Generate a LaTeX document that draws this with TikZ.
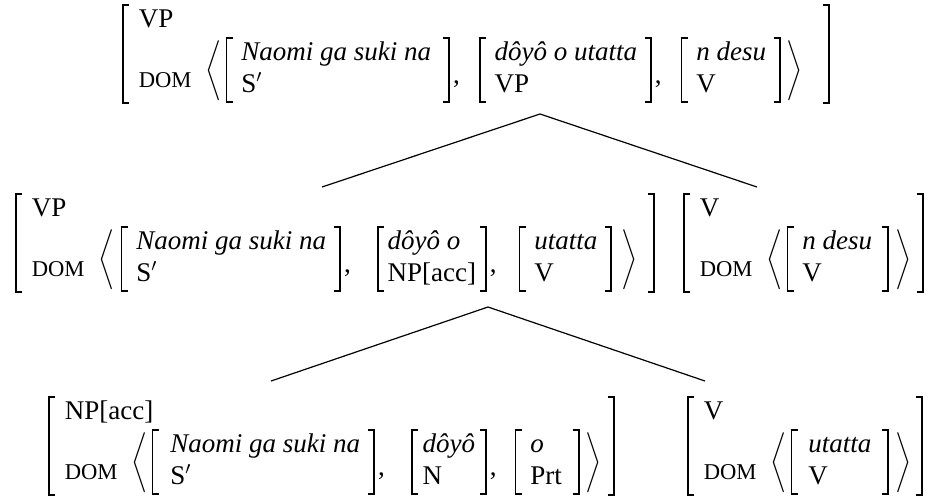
\documentclass[tikz,border=0pt]{standalone}
\usepackage{fontspec}
\setmainfont{Liberation Serif}
\newlength\bw \setlength\bw{0.9pt}
\newlength\hk \setlength\hk{3.5pt}
\newsavebox\brbox
\newcommand\LBr[2]{\hbox{\vrule width\bw height#1 depth#2\kern-\bw\rlap{\vrule width\hk height#1 depth\dimexpr\bw-#1\relax}\rlap{\vrule width\hk height\dimexpr\bw-#2\relax depth#2}\kern\bw}}
\newcommand\RBr[2]{\hbox{\vrule width\bw height#1 depth#2\llap{\vrule width\hk height#1 depth\dimexpr\bw-#1\relax}\llap{\vrule width\hk height\dimexpr\bw-#2\relax depth#2}}}
\newcommand\Brack[3]{\begingroup\sbox\brbox{\kern#1#3\kern#2}%
  \edef\bh{\the\dimexpr\ht\brbox+0.3pt\relax}\edef\bd{\the\dimexpr\dp\brbox+0.3pt\relax}%
  \LBr{\bh}{\bd}\usebox\brbox\RBr{\bh}{\bd}\endgroup}
\newcommand\domf{\raisebox{-5pt}{\fontsize{11.3}{13}\selectfont DOM}}
\newcommand\svp[4]{\Brack{#1}{#2}{\begin{tabular}{@{}l@{}}\textit{#3}\\#4\end{tabular}}}
\newcommand\sv[2]{\svp{7pt}{6.5pt}{#1}{#2}}
\newcommand\cmk[1]{\kern1.5pt\raisebox{-3pt}{,}\kern#1}
\newcommand\AVM[3]{\Brack{7.5pt}{#3}{\begin{tabular}{@{}l@{}}#1\\\domf\kern7pt$\left\langle\kern2pt #2\kern3pt\right\rangle$\end{tabular}}}
\begin{document}
\begin{tikzpicture}[x=0.5pt,y=-0.5pt,
  avm/.style={inner sep=0pt,outer sep=0pt,anchor=west,font=\fontsize{13.5}{16.2}\selectfont},
  branch/.style={line width=0.6pt}]
\useasboundingbox (0,0) rectangle (940,500);
\node[avm] (top) at (122,54) {\AVM{VP}{\svp{7pt}{8.5pt}{Naomi ga suki na}{S$'$}\cmk{9.5pt}\sv{dôyô o utatta}{VP}\cmk{9.5pt}\sv{n desu}{V}}{12.5pt}};
\node[avm] (ml) at (15,243) {\AVM{VP}{\kern1pt\sv{Naomi ga suki na}{S$'$}\cmk{13pt}\svp{4.5pt}{4.5pt}{dôyô o}{NP[acc]}\cmk{11pt}\sv{utatta}{V}\kern1.5pt}{8pt}};
\node[avm] (mr) at (683,243) {\AVM{V}{\svp{7pt}{7.5pt}{n desu}{V}}{5.5pt}};
\node[avm] (bl) at (48,446) {\AVM{NP[acc]}{\svp{8.5pt}{6.5pt}{Naomi ga suki na}{S$'$}\cmk{13pt}\svp{5pt}{5pt}{dôyô}{N}\cmk{9pt}\svp{7pt}{8pt}{o}{Prt}}{5.5pt}};
\node[avm] (br) at (687,446) {\AVM{V}{\svp{8pt}{8pt}{utatta}{V}}{5pt}};
\coordinate (a1) at (540,114);
\coordinate (l1) at (322,187);
\coordinate (r1) at (757,187);
\coordinate (a2) at (488,307);
\coordinate (l2) at (271,381);
\coordinate (r2) at (705,381);
\draw[branch] (l1) -- (a1) -- (r1);
\draw[branch] (l2) -- (a2) -- (r2);
\end{tikzpicture}
\end{document}
